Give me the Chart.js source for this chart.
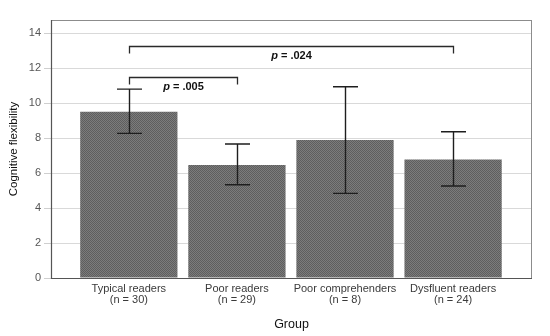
<!DOCTYPE html>
<html>
<head>
<meta charset="utf-8">
<script src="https://cdn.jsdelivr.net/npm/chart.js@4.4.1/dist/chart.umd.min.js"></script>
<style>
  html, body { margin: 0; padding: 0; background: #fff; }
  #wrap { width: 550px; height: 336px; position: relative; }
</style>
</head>
<body>
<div id="wrap"><canvas id="mainChart" width="550" height="336"></canvas></div>
<script>
// data
const groups = [['Typical readers', '(n = 30)'], ['Poor readers', '(n = 29)'], ['Poor comprehenders', '(n = 8)'], ['Dysfluent readers', '(n = 24)']];
const means = [9.50, 6.46, 7.89, 6.78];
const errLow = [8.27, 5.33, 4.84, 5.26];
const errHigh = [10.80, 7.66, 10.93, 8.36];
const yTicks = [0, 2, 4, 6, 8, 10, 12, 14];
// comparisons: from group, to group, bracket level, label
const brackets = [
    { from: 0, to: 1, level: 11.5, text: '.005' },
    { from: 0, to: 3, level: 13.27, text: '.024' }
];

// crosshatch fill like the SPSS bars
function hatch() {
    const c = document.createElement('canvas');
    c.width = 2; c.height = 2;
    const g = c.getContext('2d');
    g.fillStyle = '#7c7c7c';
    g.fillRect(0, 0, 2, 2);
    g.fillStyle = '#5e5e5e';
    g.fillRect(0, 0, 1, 1);
    g.fillRect(1, 1, 1, 1);
    return g.createPattern(c, 'repeat');
}

const extras = {
    id: 'extras',
    beforeDatasetsDraw(chart) {
        const { ctx, chartArea: a } = chart;
        ctx.save();
        ctx.strokeStyle = '#8c8c8c';
        ctx.lineWidth = 1;
        ctx.strokeRect(a.left + 0.5, a.top + 0.5, a.right - a.left - 1, a.bottom - a.top);
        ctx.restore();
    },
    afterDatasetsDraw(chart) {
        const { ctx, chartArea: a } = chart;
        const x = chart.scales.x, y = chart.scales.y;
        ctx.save();
        // axis lines
        ctx.strokeStyle = '#555';
        ctx.lineWidth = 1.2;
        ctx.beginPath();
        ctx.moveTo(a.left + 0.5, a.top);
        ctx.lineTo(a.left + 0.5, a.bottom + 0.5);
        ctx.lineTo(a.right, a.bottom + 0.5);
        ctx.stroke();

        // error bars
        ctx.strokeStyle = '#1e1e1e';
        ctx.lineWidth = 1.4;
        means.forEach((m, i) => {
            const cx = Math.round(x.getPixelForValue(i)) + 0.5;
            const yt = y.getPixelForValue(errHigh[i]);
            const yb = y.getPixelForValue(errLow[i]);
            ctx.beginPath();
            ctx.moveTo(cx, yt); ctx.lineTo(cx, yb);
            ctx.moveTo(cx - 12.5, yt); ctx.lineTo(cx + 12.5, yt);
            ctx.moveTo(cx - 12.5, yb); ctx.lineTo(cx + 12.5, yb);
            ctx.stroke();
        });

        // significance brackets
        ctx.strokeStyle = '#2a2a2a';
        ctx.lineWidth = 1.3;
        brackets.forEach(b => {
            const x1 = Math.round(x.getPixelForValue(b.from)) + 0.5;
            const x2 = Math.round(x.getPixelForValue(b.to)) + 0.5;
            const yy = Math.round(y.getPixelForValue(b.level)) + 0.5;
            ctx.beginPath();
            ctx.moveTo(x1, yy + 7); ctx.lineTo(x1, yy);
            ctx.lineTo(x2, yy); ctx.lineTo(x2, yy + 7);
            ctx.stroke();

            const mid = (x1 + x2) / 2;
            ctx.fillStyle = '#111';
            ctx.textBaseline = 'middle';
            const f1 = 'italic bold 11px Arial, "Liberation Sans", sans-serif';
            const f2 = 'bold 11px Arial, "Liberation Sans", sans-serif';
            ctx.font = f1;
            const w1 = ctx.measureText('p').width;
            ctx.font = f2;
            const rest = ' = ' + b.text;
            const w2 = ctx.measureText(rest).width;
            const sx = mid - (w1 + w2) / 2;
            ctx.textAlign = 'left';
            ctx.font = f1;
            ctx.fillText('p', sx, yy + 9.5);
            ctx.font = f2;
            ctx.fillText(rest, sx + w1, yy + 9.5);
        });
        ctx.restore();
    }
};

const ctx = document.getElementById('mainChart').getContext('2d');
new Chart(ctx, {
    type: 'bar',
    data: {
        datasets: [{
            data: means.map((v, i) => ({ x: i, y: v })),
            backgroundColor: hatch(),
            borderWidth: 0,
            barPercentage: 0.9,
            categoryPercentage: 1
        }]
    },
    options: {
        responsive: false,
        animation: false,
        layout: { padding: { left: 4, top: 20, right: 18, bottom: 4 } },
        plugins: { legend: { display: false }, tooltip: { enabled: false } },
        scales: {
            x: {
                type: 'linear',
                offset: false,
                min: -0.72,
                max: 3.73,
                afterBuildTicks: s => { s.ticks = groups.map((g, i) => ({ value: i })); },
                afterFit: s => { s.height = 54; },
                grid: { display: false, drawTicks: false, offset: false },
                border: { display: false },
                ticks: {
                    autoSkip: false,
                    maxRotation: 0,
                    padding: 6,
                    color: '#3a3a3a',
                    font: { family: 'Arial, "Liberation Sans", sans-serif', size: 11, lineHeight: 0.95 },
                    callback: v => groups[v]
                },
                title: {
                    display: true,
                    text: 'Group',
                    color: '#111',
                    padding: { top: 5, bottom: 0 },
                    font: { family: 'Arial, "Liberation Sans", sans-serif', size: 12.5 }
                }
            },
            y: {
                min: 0,
                max: 14.75,
                afterBuildTicks: s => { s.ticks = yTicks.map(v => ({ value: v })); },
                afterFit: s => { s.width = 47; },
                grid: { color: '#d9d9d9', lineWidth: 1, tickLength: 7, tickColor: '#cfcfcf' },
                border: { display: false },
                ticks: {
                    padding: 3,
                    color: '#555',
                    font: { family: 'Arial, "Liberation Sans", sans-serif', size: 11 }
                },
                title: {
                    display: true,
                    text: 'Cognitive flexibility',
                    color: '#111',
                    padding: { top: 3, bottom: 3 },
                    font: { family: 'Arial, "Liberation Sans", sans-serif', size: 11.5 }
                }
            }
        }
    },
    plugins: [extras]
});
</script>
</body>
</html>
